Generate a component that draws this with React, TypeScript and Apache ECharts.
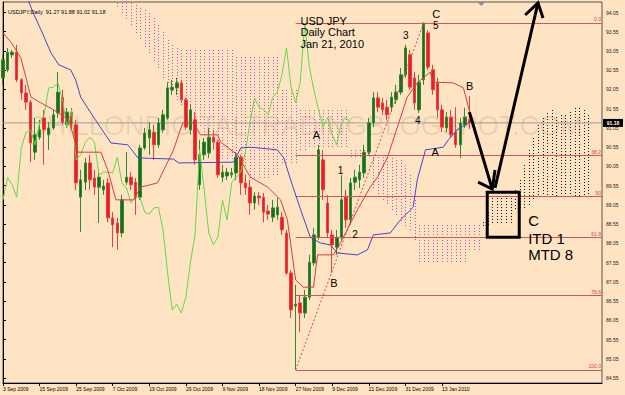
import React, { useEffect, useRef } from 'react';
import * as echarts from 'echarts';

// ---------- data ----------
const categories: string[] = [...Array(132).keys()].map(String);

const tickLabels = [
  '3 Sep 2009', '15 Sep 2009', '25 Sep 2009', '7 Oct 2009', '19 Oct 2009', '29 Oct 2009',
  '9 Nov 2009', '18 Nov 2009', '27 Nov 2009', '9 Dec 2009', '21 Dec 2009', '31 Dec 2009', '13 Jan 2010',
];

const priceTicks = [
  84.55, 85.05, 85.55, 86.05, 86.55, 87.05, 87.55, 88.05, 88.55, 89.05,
  89.55, 90.05, 90.55, 91.05, 91.55, 92.05, 92.55, 93.05, 93.55, 94.05,
];

// [open, close, low, high]
const candles = [
  [92.35, 92.82, 92.17, 92.95], [92.56, 93.02, 92.50, 93.13], [92.95, 93.02, 92.87, 93.08], [93.02, 92.30, 92.24, 93.21],
  [92.30, 91.96, 91.78, 92.35], [91.96, 91.72, 91.52, 92.17], [91.72, 90.66, 90.16, 91.78], [90.42, 90.87, 90.22, 91.31],
  [90.81, 91.00, 90.74, 91.26], [91.31, 91.00, 90.09, 91.52], [90.87, 91.05, 90.48, 91.20], [91.05, 91.39, 91.00, 91.52],
  [91.44, 91.98, 91.31, 92.50], [91.85, 91.20, 91.13, 92.04], [91.13, 91.46, 91.05, 91.57], [91.46, 91.15, 91.00, 91.57],
  [91.13, 89.62, 89.44, 91.26], [89.25, 89.70, 88.34, 89.96], [89.64, 90.14, 89.44, 90.27], [90.14, 89.70, 89.44, 90.35],
  [89.75, 89.51, 89.31, 89.96], [89.51, 89.77, 88.58, 89.90], [89.44, 89.54, 89.31, 89.70], [89.62, 88.71, 88.60, 89.75],
  [88.71, 88.53, 87.95, 88.86], [88.58, 88.32, 87.88, 88.71], [88.32, 89.18, 88.21, 89.31], [89.64, 89.77, 89.57, 90.42],
  [89.77, 89.57, 89.44, 89.90], [89.64, 89.25, 88.79, 89.75], [89.25, 90.53, 89.18, 90.61], [90.53, 90.92, 90.48, 91.05],
  [90.79, 91.00, 90.35, 91.20], [90.94, 90.61, 90.22, 91.13], [90.61, 91.18, 90.53, 91.31], [91.00, 91.39, 90.92, 91.52],
  [91.31, 92.09, 91.26, 92.24], [92.04, 92.11, 91.91, 92.30], [92.09, 92.22, 91.91, 92.35], [92.22, 91.78, 91.70, 92.30],
  [91.78, 91.07, 91.00, 91.83], [91.00, 91.52, 90.87, 91.65], [91.26, 90.22, 90.09, 91.46], [89.57, 90.35, 89.44, 90.74],
  [90.35, 90.68, 90.22, 90.79], [90.40, 90.81, 90.27, 91.05], [90.81, 90.68, 90.48, 90.99], [90.68, 89.83, 89.75, 90.74],
  [89.77, 89.90, 89.64, 90.09], [89.80, 89.90, 89.70, 90.01], [89.83, 89.88, 89.75, 90.01], [89.88, 90.29, 89.70, 90.42],
  [90.29, 89.62, 89.31, 90.35], [89.62, 89.49, 89.31, 89.83], [89.51, 89.10, 88.79, 89.70], [89.10, 89.28, 88.92, 89.38],
  [89.28, 89.23, 89.05, 89.38], [89.25, 88.86, 88.60, 89.36], [88.89, 88.81, 88.66, 89.05], [88.73, 88.97, 88.60, 89.18],
  [88.79, 88.99, 88.66, 89.23], [88.73, 88.40, 88.27, 88.86], [88.32, 87.28, 87.23, 88.40], [87.28, 86.32, 86.11, 87.36],
  [86.42, 86.47, 84.76, 86.97], [86.50, 86.24, 85.74, 86.71], [86.24, 86.65, 86.11, 86.84], [86.65, 87.56, 86.58, 87.75],
  [87.54, 88.27, 87.46, 88.45], [88.21, 90.48, 88.14, 90.61], [90.22, 89.44, 89.18, 90.48], [89.10, 88.32, 88.19, 89.31],
  [88.27, 88.01, 87.28, 88.40], [87.95, 88.21, 87.75, 88.40], [88.21, 89.18, 88.14, 89.83], [89.25, 88.66, 88.45, 89.44],
  [88.66, 89.62, 88.53, 89.75], [89.64, 89.77, 89.44, 89.96], [89.70, 89.90, 89.49, 90.09], [89.88, 90.42, 89.75, 90.61],
  [90.42, 91.18, 90.35, 91.31], [91.18, 91.83, 91.07, 91.98], [91.83, 91.59, 91.46, 91.98], [91.70, 91.52, 91.39, 91.83],
  [91.59, 91.39, 91.26, 91.78], [91.59, 91.85, 91.46, 91.98], [91.78, 91.98, 91.67, 92.17], [91.98, 92.43, 91.91, 92.61],
  [92.43, 93.13, 92.35, 93.21], [92.95, 92.11, 92.04, 93.08], [92.35, 91.70, 91.52, 92.50], [91.52, 92.24, 91.44, 92.43],
  [92.30, 93.78, 92.17, 93.78], [93.52, 92.63, 92.56, 93.60], [92.56, 92.04, 91.91, 92.69], [92.22, 91.52, 91.31, 92.35],
  [91.52, 91.07, 90.94, 91.65], [91.05, 91.33, 90.94, 91.46], [91.33, 90.87, 90.79, 91.52], [90.94, 90.61, 90.53, 91.59],
  [90.61, 91.18, 90.27, 91.31], [91.13, 91.33, 91.05, 91.57], [91.27, 91.18, 91.02, 91.88],
];

// Tenkan-sen (red) vertices [bar, price]
const tenkan = [
  [0, 93.52], [1.75, 93.28], [3.9, 92.87], [5.0, 92.37], [6.1, 91.85], [8.3, 91.70], [11.1, 91.52], [12.7, 91.39],
  [14.4, 91.26], [16.4, 90.42], [21.4, 90.42], [22.9, 89.96], [24.7, 89.18], [28.6, 89.18], [30.1, 89.51], [33.8, 89.62],
  [37.3, 90.48], [39.3, 91.18], [41.7, 91.18], [43.2, 90.87], [46.9, 90.87], [47.6, 90.68], [51.3, 90.35], [54.1, 89.77],
  [57.9, 89.51], [60.7, 89.18], [62.2, 88.66], [64, 87.10], [65.7, 86.91], [67.9, 86.91], [68.8, 87.75], [72.3, 87.75],
  [73.8, 88.06], [77.5, 88.92], [80.3, 89.51], [81.9, 89.77], [84.1, 90.29], [88.4, 91.85], [90.6, 92.22], [93.4, 92.50],
  [94.1, 92.24], [98.5, 92.22], [100.7, 92.09], [102, 91.49],
];

// Kijun-sen (blue) vertices [bar, price]
const kijun = [
  [4, 94.6], [5.5, 94.38], [6.6, 94.04], [8.3, 93.60], [10.5, 93.00], [12.2, 92.69], [14.8, 92.56], [15.9, 92.30],
  [17.0, 91.85], [19.2, 91.44], [21.4, 91.05], [23.6, 90.66], [27.3, 90.61], [29.5, 90.27], [37.3, 90.24], [38.4, 90.14],
  [50.4, 90.16], [52.0, 90.53], [54.1, 90.55], [60.0, 90.48], [61.4, 90.27], [62.9, 89.70], [65.1, 88.92], [67.2, 88.21],
  [69.4, 88.06], [71.6, 88.01], [73.1, 87.80], [77.5, 87.75], [79.7, 87.88], [81.0, 88.27], [84.7, 88.32], [86.9, 88.66],
  [89.7, 88.99], [90.6, 89.70], [92.4, 90.48], [96.3, 90.55], [97.4, 90.74], [99.3, 91.00], [101.1, 91.13], [102, 91.18],
];

const chikouShift = 26;

// Kumo, bearish part (pink): [bar, upper, lower]
const pinkCloud = [
  [25, 94.30, 94.17], [26, 94.30, 94.01], [27, 94.30, 93.86], [28, 94.30, 93.67], [29, 94.25, 93.52], [30, 94.17, 93.34],
  [31, 94.12, 93.15], [32, 94.04, 92.95], [33, 93.91, 92.76], [34, 93.73, 92.56], [35, 93.54, 92.35], [36, 93.34, 92.17],
  [37, 93.21, 91.98], [38, 93.13, 91.78], [39, 93.08, 91.59], [40, 93.08, 91.46], [41, 93.08, 91.33], [42, 93.08, 91.20],
  [43, 93.08, 91.05], [44, 93.08, 90.87], [45, 93.08, 90.87], [46, 93.08, 90.61], [47, 93.08, 90.61], [48, 93.08, 90.22],
  [49, 93.08, 90.22], [50, 93.08, 90.22], [51, 92.89, 90.01], [52, 92.89, 90.01], [53, 92.89, 90.01], [54, 92.89, 89.75],
  [55, 92.89, 89.75], [56, 92.89, 89.75], [57, 92.89, 89.75], [58, 92.89, 89.75], [59, 92.89, 89.83], [60, 92.89, 89.83],
  [61, 92.04, 90.09], [62, 92.04, 90.09], [63, 92.04, 90.09], [64, 92.04, 90.09], [65, 91.52, 90.48], [66, 91.52, 90.48],
  [67, 91.52, 90.53], [68, 91.52, 90.53], [69, 91.52, 90.53], [70, 91.52, 90.53], [71, 91.52, 90.53], [72, 91.52, 90.53],
  [73, 91.52, 90.53], [74, 91.52, 90.53], [75, 91.52, 90.53], [76, 90.48, 90.27], [77, 90.48, 90.27], [78, 90.48, 90.27],
  [79, 90.48, 90.27], [80, 90.48, 90.27], [81, 90.29, 89.44], [82, 90.29, 89.31], [83, 90.29, 89.18], [84, 90.27, 89.05],
  [85, 90.27, 88.92], [86, 90.22, 88.79], [87, 90.22, 88.60], [88, 90.09, 88.45], [89, 89.83, 88.34], [90, 89.18, 88.14],
  [91, 88.53, 87.56], [92, 88.53, 87.56], [93, 88.53, 87.56], [94, 88.53, 87.56], [95, 88.53, 87.56], [96, 88.53, 87.56],
  [97, 88.53, 87.56], [98, 88.53, 87.56], [99, 88.53, 87.56], [100, 88.53, 87.56], [101, 88.53, 87.56], [102, 88.53, 87.88],
  [103, 88.53, 87.88], [104, 88.53, 87.88],
];

// Kumo, bullish part (black): [bar, upper, lower]
const blackCloud = [
  [105, 88.60, 88.45], [106, 88.86, 88.53], [107, 89.23, 88.53], [108, 89.23, 88.53], [109, 89.23, 88.53], [110, 89.23, 88.53],
  [111, 89.23, 88.53], [112, 89.44, 88.92], [113, 89.70, 88.92], [114, 90.09, 88.92], [115, 90.48, 89.05], [116, 90.79, 89.18],
  [117, 91.13, 89.25], [118, 91.31, 89.25], [119, 91.44, 89.25], [120, 91.52, 89.25], [121, 91.33, 89.25], [122, 91.39, 89.25],
  [123, 91.39, 89.25], [124, 91.46, 89.25], [125, 91.57, 89.25], [126, 91.57, 89.25], [127, 91.52, 89.25], [128, 91.39, 89.25],
];

const fibLabels = ['0.0', '38.2', '50', '61.8', '78.6', '100.0'];
const fibValues = [93.78, 90.34, 89.27, 88.2, 86.69, 84.76];
const fibStartBar = 64;
const fibPeakBar = 92;
const lastBar = 131;
const lastPrice = 91.18;

const infoText = 'USDJPY,Daily  91.27 91.88 91.02 91.18';
const watermark = 'CHILLONDIGITALTRADINGBLOGSPOT.COM';

// annotations in chart coordinates: [text, bar, price, fontSize, align]
const notes: [string, number, number, number, string][] = [
  ['USD JPY', 65.05, 93.84, 11, 'left'],
  ['Daily Chart', 65.05, 93.535, 11, 'left'],
  ['Jan 21, 2010', 65.05, 93.23, 11, 'left'],
  ['3', 88.1, 93.44, 10, 'center'],
  ['C', 94.76, 94.02, 11, 'center'],
  ['5', 94.65, 93.70, 10, 'center'],
  ['4', 90.7, 91.255, 10, 'center'],
  ['B', 102.07, 92.14, 11, 'center'],
  ['A', 94.54, 90.42, 11, 'center'],
  ['A', 68.56, 90.865, 11, 'center'],
  ['1', 73.8, 89.955, 10, 'center'],
  ['2', 76.97, 88.29, 10, 'center'],
  ['B', 72.38, 87.02, 11, 'center'],
  ['C', 114.85, 88.655, 15, 'left'],
  ['ITD 1', 114.85, 88.174, 15, 'left'],
  ['MTD 8', 114.85, 87.77, 15, 'left'],
];

const arrowDefs = [
  { from: [102.0, 91.46], to: [107.0, 89.46], wings: [[103.9, 89.64], [107.6, 89.955]] },
  { from: [107.6, 89.49], to: [117.0, 94.30], wings: [[114.2, 93.985], [118.1, 93.907]] },
];
const boxDef = [[105.9, 89.38], [112.9, 88.21]];

// ---------- chart ----------
const FONT = '"Liberation Sans", Arial, sans-serif';

function cloudSeries(data: number[][], color: string) {
  return {
    type: 'custom',
    xAxisIndex: 1,
    yAxisIndex: 0,
    silent: true,
    clip: true,
    z: 1,
    data,
    encode: { x: 0, y: [1, 2] },
    renderItem: (_p: any, api: any) => {
      const t = api.coord([api.value(0), api.value(1)]);
      const b = api.coord([api.value(0), api.value(2)]);
      const x = Math.round(t[0]) + 0.5;
      return {
        type: 'line',
        shape: { x1: x, y1: Math.round(t[1]), x2: x, y2: Math.round(b[1]) },
        style: { stroke: color, lineWidth: 1, lineDash: [1, 2] },
      };
    },
  };
}

function buildOption() {
  const chikou = candles.slice(chikouShift).map((c, i) => [i, c[1]]);
  const showTick = (i: number) => i % 8 === 0 && i / 8 < tickLabels.length;
  return {
    animation: false,
    backgroundColor: '#FFE4C4',
    title: {
      text: infoText,
      left: 3,
      top: 4,
      textStyle: { fontSize: 5.5, fontWeight: 'normal', color: '#000', fontFamily: FONT },
    },
    grid: { left: 2, right: 23, top: 2, bottom: 12, show: true, borderColor: '#555', borderWidth: 1 },
    xAxis: [
      {
        type: 'category',
        data: categories,
        boundaryGap: false,
        axisLine: { show: true, lineStyle: { color: '#000', width: 1 } },
        axisTick: { show: true, interval: showTick, length: 3, lineStyle: { color: '#000' } },
        axisLabel: {
          interval: showTick,
          formatter: (_v: string, i: number) => tickLabels[i / 8] ?? '',
          fontSize: 5,
          color: '#000',
          align: 'left',
          margin: 3,
          fontFamily: FONT,
        },
        splitLine: { show: false },
      },
      { type: 'value', min: 0, max: lastBar, show: false },
    ],
    yAxis: {
      type: 'value',
      position: 'right',
      min: 84.42,
      max: 94.323,
      axisLine: { show: true, lineStyle: { color: '#000', width: 1 } },
      axisTick: { show: true, customValues: priceTicks, length: 3, lineStyle: { color: '#000' } },
      axisLabel: {
        customValues: priceTicks,
        formatter: (v: number) => v.toFixed(2),
        fontSize: 5,
        color: '#222',
        margin: 4,
        fontFamily: FONT,
      },
      splitLine: { show: false },
    },
    series: [
      cloudSeries(pinkCloud, '#D848BA'),
      cloudSeries(blackCloud, '#111111'),
      {
        type: 'candlestick',
        xAxisIndex: 0,
        yAxisIndex: 0,
        data: candles,
        barWidth: 3,
        silent: true,
        z: 3,
        itemStyle: {
          color: '#1E6B1E',
          color0: '#EA1E1E',
          borderColor: '#2F8A2F',
          borderColor0: '#E84040',
          borderWidth: 1,
        },
      },
      {
        type: 'line',
        xAxisIndex: 1,
        data: [[0, lastPrice], [lastBar, lastPrice]],
        symbol: 'none',
        silent: true,
        z: 2,
        lineStyle: { color: '#9A9A9A', width: 1 },
        markLine: {
          silent: true,
          symbol: ['none', 'none'],
          lineStyle: { type: 'solid', width: 1, color: '#D55555' },
          label: { show: true, position: 'insideEndTop', formatter: '{b}', fontSize: 5, color: '#D0405A', distance: 1, fontFamily: FONT },
          emphasis: { disabled: true },
          data: fibValues.map((v, k) => [
            { coord: [fibStartBar, v], name: fibLabels[k] },
            { coord: [lastBar, v] },
          ]),
        },
      },
      {
        type: 'line',
        xAxisIndex: 1,
        data: [[fibStartBar, fibValues[5]], [fibPeakBar, fibValues[0]]],
        symbol: 'none',
        silent: true,
        z: 4,
        lineStyle: { color: '#D04848', width: 1, type: [2, 2] },
      },
      {
        type: 'line', xAxisIndex: 1, data: chikou, symbol: 'none', silent: true, z: 5,
        lineStyle: { color: '#5FDA4A', width: 1 },
      },
      {
        type: 'line', xAxisIndex: 1, data: kijun, symbol: 'none', silent: true, z: 5,
        lineStyle: { color: '#4646C8', width: 1 },
      },
      {
        type: 'line', xAxisIndex: 1, data: tenkan, symbol: 'none', silent: true, z: 5,
        lineStyle: { color: '#DA3A3A', width: 1 },
      },
    ],
  };
}

export default function App() {
  const ref = useRef<HTMLDivElement>(null);
  useEffect(() => {
    if (!ref.current) return;
    const chart = echarts.init(ref.current, null, { renderer: 'svg' });
    chart.setOption(buildOption() as any);
    const P = (x: number, y: number) =>
      chart.convertToPixel({ xAxisIndex: 1, yAxisIndex: 0 } as any, [x, y]) as unknown as number[];

    const els: any[] = [];
    els.push({
      type: 'text', x: 305, y: 126, z: 0, silent: true,
      style: { text: watermark, font: `27px ${FONT}`, fill: 'rgba(0,0,0,0.09)', align: 'center', verticalAlign: 'middle' },
    });
    // chart shift marker
    const sm = P(104.6, 94.323);
    els.push({
      type: 'polygon', z: 50, silent: true,
      shape: { points: [[sm[0] - 4, sm[1]], [sm[0] + 4, sm[1]], [sm[0], sm[1] + 4]] },
      style: { fill: '#8A8AA0' },
    });
    notes.forEach(([text, bx, py, size, align]) => {
      const p = P(bx, py);
      els.push({
        type: 'text', x: p[0], y: p[1], z: 100, silent: true,
        style: { text, font: `${size}px ${FONT}`, fill: '#000', align, verticalAlign: 'middle' },
      });
    });
    arrowDefs.forEach((a) => {
      const f = P(a.from[0], a.from[1]);
      const t = P(a.to[0], a.to[1]);
      const w1 = P(a.wings[0][0], a.wings[0][1]);
      const w2 = P(a.wings[1][0], a.wings[1][1]);
      els.push({ type: 'polyline', z: 100, silent: true, shape: { points: [f, t] }, style: { stroke: '#000', lineWidth: 3, fill: 'none' } });
      els.push({ type: 'polyline', z: 100, silent: true, shape: { points: [w1, t, w2] }, style: { stroke: '#000', lineWidth: 3, fill: 'none' } });
    });
    const b1 = P(boxDef[0][0], boxDef[0][1]);
    const b2 = P(boxDef[1][0], boxDef[1][1]);
    els.push({
      type: 'rect', z: 100, silent: true,
      shape: { x: b1[0], y: b1[1], width: b2[0] - b1[0], height: b2[1] - b1[1] },
      style: { stroke: '#000', lineWidth: 3, fill: 'transparent' },
    });
    // current price tag
    const lp = P(lastBar, lastPrice);
    els.push({ type: 'rect', z: 100, silent: true, shape: { x: lp[0] + 1, y: lp[1] - 4, width: 20, height: 8 }, style: { fill: '#000' } });
    els.push({
      type: 'text', x: lp[0] + 11, y: lp[1], z: 101, silent: true,
      style: { text: lastPrice.toFixed(2), font: `bold 5px ${FONT}`, fill: '#fff', align: 'center', verticalAlign: 'middle' },
    });
    chart.setOption({ graphic: { elements: els } });
    return () => chart.dispose();
  }, []);
  return <div ref={ref} style={{ position: 'fixed', left: 0, top: 0, width: 625, height: 395 }} />;
}
